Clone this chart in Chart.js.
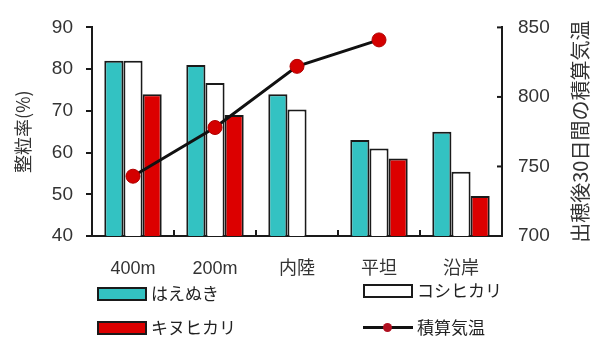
<!DOCTYPE html>
<html>
<head>
<meta charset="utf-8">
<script src="https://cdn.jsdelivr.net/npm/chart.js@4"></script>
<style>
  body { margin: 0; background: #fff; }
  #wrap { position: relative; width: 598px; height: 342px; }
  .lg { position: absolute; font: 17px "Noto Sans CJK JP", sans-serif; color: #222; line-height: 20px; }
  .box { position: absolute; box-sizing: border-box; border: 2px solid #1a1a1a; }
</style>
</head>
<body>
<div id="wrap">
  <canvas id="canvas" width="598" height="342"></canvas>
  <div id="legend"></div>
</div>
<script>
let labels = [ '400m', '200m', '内陸', '平坦', '沿岸' ];
let haenuki = [ 82, 81, 74, 63, 65 ];
let koshihikari = [ 82, 76.7, 70.3, 61, 55.4 ];
let kinuhikari = [ 74, 69, null, 58.6, 49.6 ];
let temp = [ 743, 778, 822, 841, null ];
let leftTicks = { min: 40, max: 90, step: 10 };
let rightTicks = { min: 700, max: 850, step: 50 };
let leftTitle = '整粒率(%)';
let rightTitle = '出穂後30日間の積算気温';

let font = '"Liberation Sans", "Noto Sans CJK JP", sans-serif';

let bar = (label, data, color) => ({
  label: label,
  data: data,
  backgroundColor: color,
  borderColor: '#1a1a1a',
  borderWidth: 2,
  barPercentage: 1.0,
  categoryPercentage: 0.7,
  order: 1
});

// extra bits the reference has: inner ticks, dotted right axis ticks, right title
let extras = {
  id: 'extras',
  afterDraw(chart) {
    let ctx = chart.ctx, x = chart.scales.x, y2 = chart.scales.y2, a = chart.chartArea;
    ctx.save();
    ctx.strokeStyle = '#1a1a1a';
    ctx.lineWidth = 2;
    for (let i = 1; i < labels.length; i++) {
      let px = (x.getPixelForTick(i - 1) + x.getPixelForTick(i)) / 2;
      ctx.beginPath(); ctx.moveTo(px, a.bottom); ctx.lineTo(px, a.bottom - 6); ctx.stroke();
    }
    y2.ticks.forEach((t, i) => {
      let py = y2.getPixelForTick(i);
      ctx.beginPath(); ctx.moveTo(a.right - 5, py); ctx.lineTo(a.right, py); ctx.stroke();
    });
    ctx.fillStyle = '#333';
    ctx.font = '20px "Noto Sans CJK JP", sans-serif';
    ctx.textAlign = 'center';
    ctx.textBaseline = 'middle';
    ctx.translate(580, (a.top + a.bottom) / 2);
    ctx.rotate(-Math.PI / 2);
    ctx.fillText(rightTitle, 0, 0);
    ctx.restore();
  }
};

let options = {
  type: 'bar',
  data: {
    labels: labels,
    datasets: [
      {
        type: 'line',
        label: '積算気温',
        data: temp,
        yAxisID: 'y2',
        borderColor: '#111',
        borderWidth: 3,
        pointRadius: 7,
        pointBackgroundColor: '#d40000',
        pointBorderColor: '#b00000',
        pointBorderWidth: 1,
        order: 0
      },
      bar('はえぬき', haenuki, '#33c2c2'),
      bar('コシヒカリ', koshihikari, '#ffffff'),
      bar('キヌヒカリ', kinuhikari, '#dc0000')
    ]
  },
  options: {
    responsive: false,
    animation: false,
    layout: { padding: { top: 18, bottom: 0, left: 0, right: 0 } },
    plugins: {
      legend: { display: false },
      tooltip: { enabled: false }
    },
    scales: {
      x: {
        grid: { display: false, drawTicks: false },
        border: { display: true, color: '#1a1a1a', width: 2 },
        ticks: { color: '#333', font: { family: font, size: 18 }, padding: 22 },
        afterFit: s => { s.height = 106; }
      },
      y: {
        position: 'left',
        min: leftTicks.min, max: leftTicks.max,
        ticks: { stepSize: leftTicks.step, color: '#333', font: { family: font, size: 19 }, padding: 13 },
        grid: { drawOnChartArea: false, tickLength: 6, color: '#1a1a1a', lineWidth: 2 },
        border: { color: '#1a1a1a', width: 2 },
        title: { display: true, text: leftTitle, color: '#333', font: { family: '"Noto Sans CJK JP", sans-serif', size: 18 }, padding: { top: 12, bottom: 0 } },
        afterFit: s => { s.width = 92; }
      },
      y2: {
        position: 'right',
        min: rightTicks.min, max: rightTicks.max,
        ticks: { stepSize: rightTicks.step, color: '#333', font: { family: font, size: 19 }, padding: 16 },
        grid: { display: false, drawTicks: false },
        border: { display: true, color: '#1a1a1a', width: 2, dash: [2, 4] },
        afterFit: s => { s.width = 96; }
      }
    }
  },
  plugins: [extras]
};

let chart = new Chart(document.getElementById('canvas'), options);

// legend below the plot, two columns like the reference
let slots = [ [97, 287], [97, 321], [363, 284], [363, 321] ];
let order = [ 1, 3, 2, 0 ];
let legend = document.getElementById('legend');
order.forEach((di, k) => {
  let ds = chart.data.datasets[di];
  let [lx, ly] = slots[k];
  let html;
  if (ds.type === 'line') {
    html = '<div style="position:absolute;left:' + lx + 'px;top:' + (ly + 5) + 'px;width:50px;height:3px;background:#111"></div>' +
           '<div style="position:absolute;left:' + (lx + 20) + 'px;top:' + (ly + 2) + 'px;width:9px;height:9px;border-radius:50%;background:#b01020"></div>';
  } else {
    html = '<div class="box" style="left:' + lx + 'px;top:' + ly + 'px;width:50px;height:14px;background:' + ds.backgroundColor + '"></div>';
  }
  html += '<div class="lg" style="left:' + (lx + 54) + 'px;top:' + (ly - 4) + 'px">' + ds.label + '</div>';
  legend.insertAdjacentHTML('beforeend', html);
});
</script>
</body>
</html>
